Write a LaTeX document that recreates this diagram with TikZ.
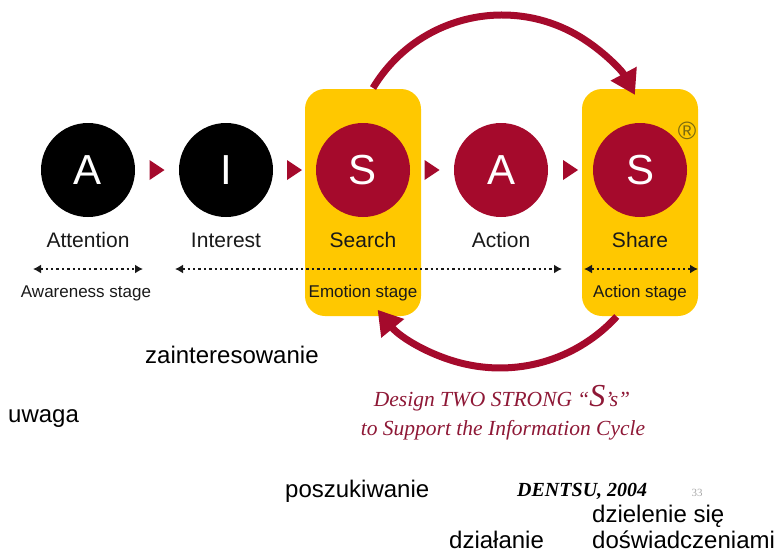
\documentclass[tikz,border=0pt]{standalone}
\usepackage{fontspec}
\setmainfont{Liberation Sans}
\newfontfamily\captionserif{Liberation Serif}
\usetikzlibrary{arrows.meta,calc}
\definecolor{stagered}{HTML}{A50A2C}
\definecolor{stageyellow}{HTML}{FFC800}
\definecolor{cyclered}{HTML}{8E1836}
\definecolor{markolive}{HTML}{7A6A10}
\definecolor{pagegray}{HTML}{A8A8A8}

\begin{document}
\begin{tikzpicture}[x=1pt,y=-1pt,
  stagebox/.style={fill=stageyellow, rounded corners=20pt},
  letterdisc/.style={circle, minimum size=94pt, inner sep=0pt, text=white,
    font=\fontsize{42}{42}\selectfont},
  darkdisc/.style={letterdisc, fill=black},
  hotdisc/.style={letterdisc, fill=stagered},
  steplabel/.style={anchor=base, text=black!90, font=\fontsize{21}{21}\selectfont},
  phaselabel/.style={anchor=base, text=black!90, font=\fontsize{17}{17}\selectfont},
  polishword/.style={anchor=base west, inner sep=0pt, text=black,
    font=\fontsize{24}{24}\selectfont},
  spanarrow/.style={{Latex[length=8pt,width=9pt]}-{Latex[length=8pt,width=9pt]},
    line width=2.4pt, dash pattern=on 2.4pt off 3pt, draw=black!90},
  cyclearrow/.style={draw=stagered, line width=7pt,
    -{Triangle[length=24pt,width=28pt]}},
  pointer/.style={fill=stagered}
]
\useasboundingbox (0,0) rectangle (775,552);

% emotion and action stage panels
\path[stagebox] (305,89) rectangle (421,316);
\node[inner sep=0pt] (b1) at (363,202.5) {};
\path[stagebox] (582,89) rectangle (698,316);
\node[inner sep=0pt] (b2) at (640,202.5) {};

% the five steps
\node[darkdisc] (c1) at (88,170) {A};
\node[darkdisc] (c2) at (226,170) {I};
\node[hotdisc]  (c3) at (363,170) {S};
\node[hotdisc]  (c4) at (501,170) {A};
\node[hotdisc]  (c5) at (640,170) {S};

\node[text=markolive, font=\fontsize{25}{25}\selectfont] (reg) at (687,131) {®};

% small pointers between consecutive steps
\foreach \a/\b/\m in {c1/c2/m1, c2/c3/m2, c3/c4/m3, c4/c5/m4}{
  \coordinate (\m) at ($(\a)!0.5!(\b)$);
  \fill[pointer] (\m) ++(-7.5,-10) -- ++(15,10) -- ++(-15,10) -- cycle;
}

% step names
\node[steplabel] (l1) at (88,247) {Attention};
\node[steplabel] (l2) at (226,247) {Interest};
\node[steplabel] (l3) at (363,247) {Search};
\node[steplabel] (l4) at (501,247) {Action};
\node[steplabel] (l5) at (640,247) {Share};

% stage spans
\coordinate (s1a) at (33,269);  \coordinate (s1b) at (143,269);
\coordinate (s2a) at (175,269); \coordinate (s2b) at (562,269);
\coordinate (s3a) at (584,269); \coordinate (s3b) at (698,269);
\draw[spanarrow] (s1a) -- (s1b);
\draw[spanarrow] (s2a) -- (s2b);
\draw[spanarrow] (s3a) -- (s3b);

\node[phaselabel] (p1) at (86,297) {Awareness stage};
\node[phaselabel] (p2) at (363,297) {Emotion stage};
\node[phaselabel] (p3) at (640,297) {Action stage};

% information cycle between the two S steps
\coordinate (u0) at (373,88);
\draw[cyclearrow] (u0) arc[start angle=-149, end angle=-28, radius=150.5];
\coordinate (d0) at (616.7,316.5);
\draw[cyclearrow] (d0) arc[start angle=42.4, end angle=140.8, radius=158];

% caption
\node[anchor=base, text=cyclered, font=\captionserif\itshape\fontsize{21.5}{21.5}\selectfont]
  (cap1) at (502,406) {Design TWO STRONG “{\fontsize{32}{32}\selectfont S}’s”};
\node[anchor=base, text=cyclered, font=\captionserif\itshape\fontsize{21.5}{21.5}\selectfont]
  (cap2) at (503,435) {to Support the Information Cycle};
\node[anchor=base west, inner sep=0pt, text=black,
  font=\captionserif\bfseries\itshape\fontsize{20}{20}\selectfont]
  (src) at (517,496) {DENTSU, 2004};
\node[text=pagegray, font=\captionserif\fontsize{11}{11}\selectfont] (pg) at (697,493) {33};

% Polish glosses
\node[polishword] (w1) at (145,363) {zainteresowanie};
\node[polishword] (w2) at (8,422) {uwaga};
\node[polishword] (w3) at (285,497) {poszukiwanie};
\node[polishword] (w4) at (449,548) {działanie};
\node[polishword] (w5) at (592,522) {dzielenie się};
\node[polishword] (w6) at (592,548) {doświadczeniami};
\end{tikzpicture}
\end{document}
